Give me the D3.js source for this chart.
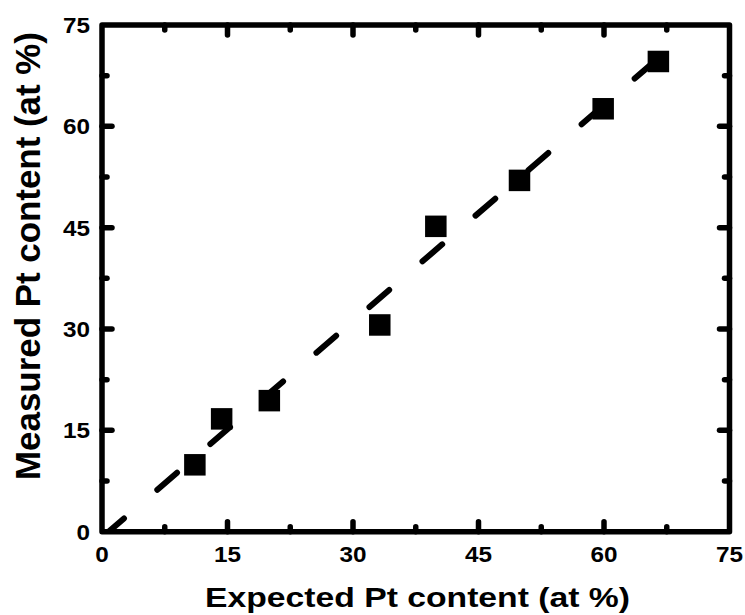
<!DOCTYPE html>
<html lang="en">
<head>
    <meta charset="UTF-8">
    <title>Measured vs expected Pt content</title>
    <script src="https://d3js.org/d3.v7.min.js"></script>
    <style>
        body {
            margin: 0;
            background: #fff;
        }
        text {
            font-family: "Liberation Sans", Arial, sans-serif;
            font-weight: bold;
            fill: #000;
        }
    </style>
</head>
<body>
    <div id="chart"></div>

    <script>
        // measured points
        const expectedPt = [11.1, 14.3, 20, 33.2, 39.9, 49.9, 59.9, 66.5];
        const measuredPt = [9.9, 16.7, 19.4, 30.6, 45.2, 52.0, 62.6, 69.6];

        // linear fit, two end points
        const fitX = [0, 66.6];
        const fitY = [-0.84, 70.2];

        const majorTicks = [0, 15, 30, 45, 60, 75];
        const minorTicks = [7.5, 22.5, 37.5, 52.5, 67.5];

        const W = 745, H = 615;
        const plotL = 102, plotR = 729.5, plotT = 25, plotB = 531.7;

        const svg = d3.select("#chart").append("svg")
            .attr("width", W)
            .attr("height", H);

        const x = d3.scaleLinear().domain([0, 75]).range([plotL, plotR]);
        const y = d3.scaleLinear().domain([0, 75]).range([plotB, plotT]);

        svg.append("clipPath").attr("id", "plot")
            .append("rect")
            .attr("x", plotL).attr("y", plotT)
            .attr("width", plotR - plotL).attr("height", plotB - plotT);

        // dashed fit line
        const line = d3.line().x(d => x(d[0])).y(d => y(d[1]));
        svg.append("path")
            .attr("clip-path", "url(#plot)")
            .attr("d", line(d3.zip(fitX, fitY)))
            .attr("fill", "none")
            .attr("stroke", "#000")
            .attr("stroke-width", 6)
            .attr("stroke-linecap", "round")
            .attr("stroke-dasharray", "26,44")
            .attr("stroke-dashoffset", -3);

        // squares
        const sq = 21.5;
        svg.selectAll("rect.pt")
            .data(d3.zip(expectedPt, measuredPt))
            .enter().append("rect")
            .attr("class", "pt")
            .attr("x", d => x(d[0]) - sq / 2)
            .attr("y", d => y(d[1]) - sq / 2)
            .attr("width", sq)
            .attr("height", sq)
            .attr("fill", "#000");

        // ticks on all four sides, pointing inward
        const tk = svg.append("g")
            .attr("stroke", "#000")
            .attr("stroke-width", 5.5)
            .attr("stroke-linecap", "round");
        const ticks = majorTicks.slice(1, -1).map(v => [v, 10])
            .concat(minorTicks.map(v => [v, 5]));
        ticks.forEach(([v, len]) => {
            tk.append("line").attr("x1", x(v)).attr("x2", x(v)).attr("y1", plotB).attr("y2", plotB - len);
            tk.append("line").attr("x1", x(v)).attr("x2", x(v)).attr("y1", plotT).attr("y2", plotT + len);
            tk.append("line").attr("y1", y(v)).attr("y2", y(v)).attr("x1", plotL).attr("x2", plotL + len);
            tk.append("line").attr("y1", y(v)).attr("y2", y(v)).attr("x1", plotR).attr("x2", plotR - len);
        });

        // frame
        svg.append("rect")
            .attr("x", plotL).attr("y", plotT)
            .attr("width", plotR - plotL).attr("height", plotB - plotT)
            .attr("fill", "none")
            .attr("stroke", "#000")
            .attr("stroke-width", 5.5)
            .attr("stroke-linejoin", "round");

        // tick labels (slightly wide, like the original)
        majorTicks.forEach(v => {
            svg.append("text")
                .attr("transform", `translate(${x(v)},${plotB + 30.5}) scale(1.08,1)`)
                .attr("text-anchor", "middle")
                .style("font-size", "22.5px")
                .text(v);
            svg.append("text")
                .attr("transform", `translate(${plotL - 12},${y(v) + 8}) scale(1.08,1)`)
                .attr("text-anchor", "end")
                .style("font-size", "22.5px")
                .text(v);
        });

        // axis titles
        svg.append("text")
            .attr("x", 417.5)
            .attr("y", 606.5)
            .attr("text-anchor", "middle")
            .attr("textLength", 425)
            .attr("lengthAdjust", "spacingAndGlyphs")
            .style("font-size", "28px")
            .text("Expected Pt content (at %)");

        svg.append("text")
            .attr("transform", "translate(40,256) rotate(-90)")
            .attr("text-anchor", "middle")
            .attr("textLength", 448)
            .attr("lengthAdjust", "spacingAndGlyphs")
            .style("font-size", "35px")
            .text("Measured Pt content (at %)");
    </script>
</body>
</html>
